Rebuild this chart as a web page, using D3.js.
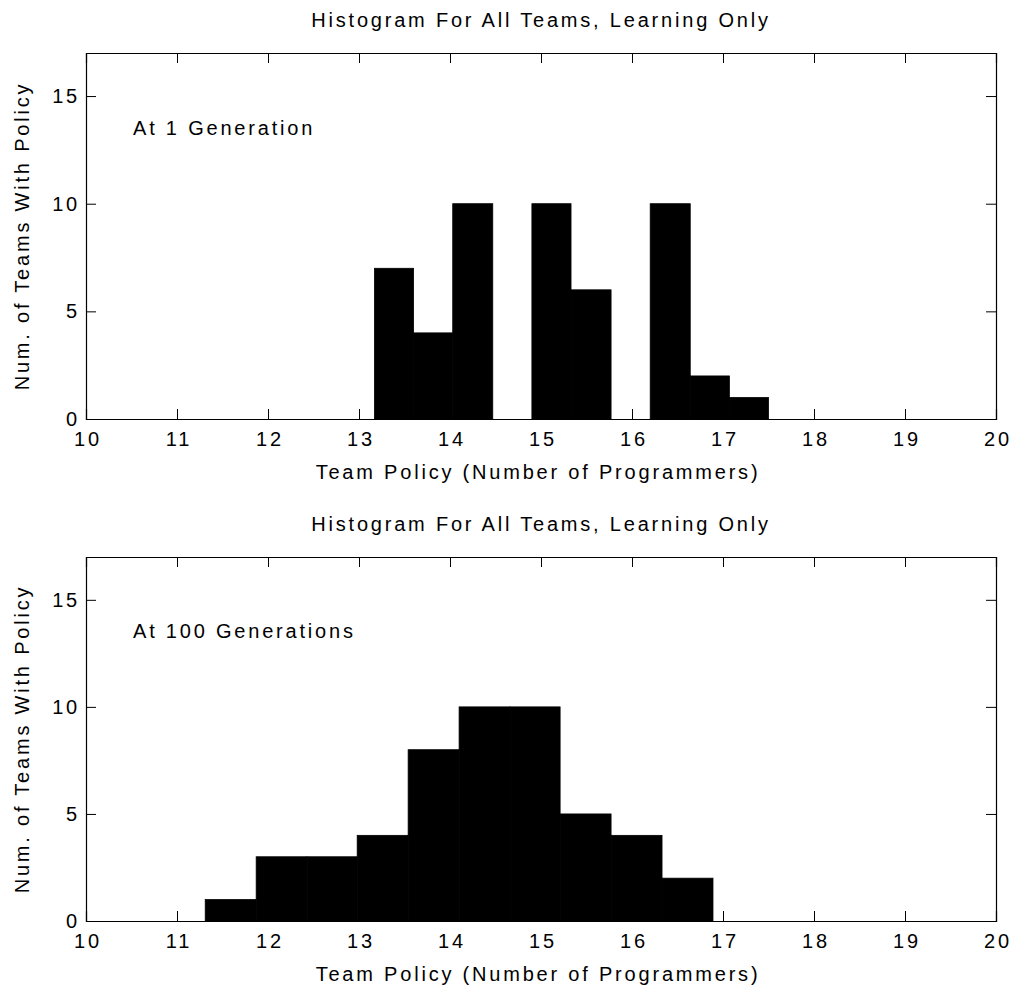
<!DOCTYPE html>
<html>
<head>
<meta charset="utf-8">
<script src="https://cdn.jsdelivr.net/npm/d3@7"></script>
<style>
  body { margin: 0; background: #fff; }
  svg text { font-family: "Liberation Sans", Arial, sans-serif; font-size: 20px; letter-spacing: 2.8px; fill: #000; }
</style>
</head>
<body>
<svg id="chart" width="1016" height="993"></svg>
<script>
// values
var xTicks = [10, 11, 12, 13, 14, 15, 16, 17, 18, 19, 20];
var yTicks = [0, 5, 10, 15];
var chartTitle = 'Histogram For All Teams, Learning Only';
var xLabel = 'Team Policy (Number of Programmers)';
var yLabel = 'Num. of Teams With Policy';

var gen1Label = 'At 1 Generation';
var gen1Edges = [13.17, 13.6, 14.03, 14.47, 14.9, 15.33, 15.77, 16.2, 16.64, 17.07, 17.5];
var gen1Counts = [7, 4, 10, 0, 10, 6, 0, 10, 2, 1];

var gen100Label = 'At 100 Generations';
var gen100Edges = [11.31, 11.87, 12.43, 12.98, 13.54, 14.1, 14.66, 15.21, 15.77, 16.33, 16.89];
var gen100Counts = [1, 3, 3, 4, 8, 10, 10, 5, 4, 2];

function toBins(edges, counts) {
  return counts.map(function (c, i) {
    return { x0: edges[i], x1: edges[i + 1], count: c };
  });
}

function drawPanel(svg, top, bottom, label, bins) {
  var left = 86, right = 996;
  var x = d3.scaleLinear().domain([10, 20]).range([left, right]);
  var y = d3.scaleLinear().domain([0, 17]).range([bottom, top]);
  var g = svg.append('g');

  // bars (thin black stroke so neighbouring bins merge like the print)
  g.selectAll('.bar')
    .data(bins.filter(function (d) { return d.count > 0; }))
    .join('rect')
    .attr('class', 'bar')
    .attr('x', function (d) { return x(d.x0); })
    .attr('y', function (d) { return y(d.count); })
    .attr('width', function (d) { return x(d.x1) - x(d.x0); })
    .attr('height', function (d) { return y(0) - y(d.count); })
    .attr('fill', '#000')
    .attr('stroke', '#000')
    .attr('stroke-width', 0.8);

  // axes, ticks pointing inward
  g.append('g')
    .attr('transform', 'translate(0,' + bottom + ')')
    .call(d3.axisBottom(x).tickValues(xTicks).tickSize(-10).tickPadding(13).tickFormat(d3.format('d')));
  g.append('g')
    .attr('transform', 'translate(0,' + top + ')')
    .call(d3.axisTop(x).tickValues(xTicks).tickSize(-10).tickFormat(''));
  g.append('g')
    .attr('transform', 'translate(' + left + ',0)')
    .call(d3.axisLeft(y).tickValues(yTicks).tickSize(-10).tickPadding(6).tickFormat(d3.format('d')));
  g.append('g')
    .attr('transform', 'translate(' + right + ',0)')
    .call(d3.axisRight(y).tickValues(yTicks).tickSize(-10).tickFormat(''));

  g.selectAll('.domain').attr('stroke', '#000').attr('stroke-width', 1.2);
  g.selectAll('.tick line').attr('stroke', '#000');
  g.selectAll('.tick text').attr('font-size', null).attr('font-family', null);
  g.selectAll('.tick text').filter(function () {
    return this.getAttribute('dy') === '0.71em';
  }).attr('dx', '0.07em');

  g.append('text')
    .attr('x', (left + right) / 2)
    .attr('y', top - 26)
    .attr('text-anchor', 'middle')
    .text(chartTitle);

  g.append('text')
    .attr('x', (left + right) / 2 - 3)
    .attr('y', bottom + 60)
    .attr('text-anchor', 'middle')
    .text(xLabel);

  g.append('text')
    .attr('transform', 'translate(29,' + (top + bottom) / 2 + ') rotate(-90)')
    .attr('text-anchor', 'middle')
    .text(yLabel);

  g.append('text')
    .attr('x', 133)
    .attr('y', y(13.2))
    .text(label);
}

var svg = d3.select('#chart');
drawPanel(svg, 53, 419, gen1Label, toBins(gen1Edges, gen1Counts));
drawPanel(svg, 557, 921, gen100Label, toBins(gen100Edges, gen100Counts));
</script>
</body>
</html>
